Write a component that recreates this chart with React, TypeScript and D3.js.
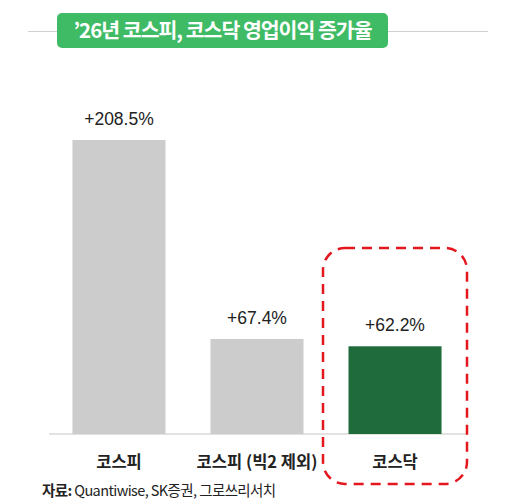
import React from "react";
import * as d3 from "d3";

const categories = ["코스피", "코스피 (빅2 제외)", "코스닥"];
const values = [208.5, 67.4, 62.2];
const valueLabels = ["+208.5%", "+67.4%", "+62.2%"];
const titleText = "’26년 코스피, 코스닥 영업이익 증가율";
const sourceBold = "자료:";
const sourceRest = " Quantiwise, SK증권, 그로쓰리서치";

export default function App() {
  const W = 514, H = 504;
  const baseY = 434;
  const x = d3.scaleBand().domain(categories).range([49, 465]).paddingInner(0.326).paddingOuter(0.17);
  const y = d3.scaleLinear().domain([0, 208.5]).range([baseY, 140]);
  const font = "'Noto Sans CJK KR', 'Noto Sans', sans-serif";
  return (
    <svg width={W} height={H} style={{ position: "absolute", left: 0, top: 0, background: "#fff" }}>
      <line x1={28} x2={488} y1={31.5} y2={31.5} stroke="#d0d0d0" strokeWidth={1} />
      <rect x={57} y={13} width={331} height={35} rx={5} fill="#3fbb65" />
      <text x={222.5} y={38} textAnchor="middle" fill="#fff" fontFamily={font} fontWeight={700} fontSize={20.5} letterSpacing={-1}>
        {titleText}
      </text>
      <line x1={49} x2={467} y1={baseY} y2={baseY} stroke="#d9d9d9" strokeWidth={1.5} />
      {categories.map((c, i) => (
        <g key={c}>
          <rect x={x(c)} y={y(values[i])} width={x.bandwidth()} height={baseY - y(values[i])} fill={i === 2 ? "#206b3c" : "#cccccc"} />
          <text x={x(c)! + x.bandwidth() / 2} y={y(values[i]) - 15} textAnchor="middle" fontFamily="'Liberation Sans', Arial, sans-serif" fontSize={17.5} fill="#222">
            {valueLabels[i]}
          </text>
          <text x={x(c)! + x.bandwidth() / 2} y={468} textAnchor="middle" fontFamily={font} fontWeight={700} fontSize={16.5} fill="#222">
            {c}
          </text>
        </g>
      ))}
      <rect x={323} y={248} width={144} height={236} rx={22} fill="none" stroke="#e4171f" strokeWidth={2.5} strokeDasharray="10 7" />
      <text x={42} y={496} fontFamily={font} fontSize={14.5} fill="#222" letterSpacing={-0.6}>
        <tspan fontWeight={700}>{sourceBold}</tspan>
        <tspan>{sourceRest}</tspan>
      </text>
    </svg>
  );
}
